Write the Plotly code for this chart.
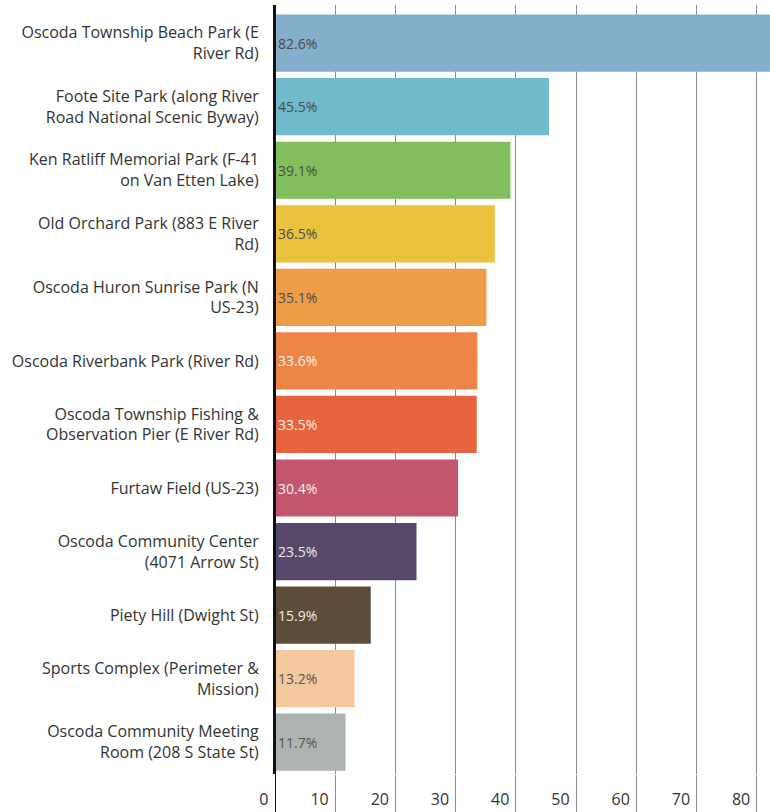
import plotly.graph_objects as go

# Park / facility names (top to bottom) and share of respondents (%)
parks = [
    "Oscoda Township Beach Park (E<br>River Rd)",
    "Foote Site Park (along River<br>Road National Scenic Byway)",
    "Ken Ratliff Memorial Park (F-41<br>on Van Etten Lake)",
    "Old Orchard Park (883 E River<br>Rd)",
    "Oscoda Huron Sunrise Park (N<br>US-23)",
    "Oscoda Riverbank Park (River Rd)",
    "Oscoda Township Fishing &<br>Observation Pier (E River Rd)",
    "Furtaw Field (US-23)",
    "Oscoda Community Center<br>(4071 Arrow St)",
    "Piety Hill (Dwight St)",
    "Sports Complex (Perimeter &<br>Mission)",
    "Oscoda Community Meeting<br>Room (208 S State St)",
]
percent = [82.6, 45.5, 39.1, 36.5, 35.1, 33.6, 33.5, 30.4, 23.5, 15.9, 13.2, 11.7]

bar_colors = [
    "#84AECB", "#6FBACB", "#82BF5C", "#EBC23E", "#EE9C48", "#EE8445",
    "#E8643F", "#C4566F", "#56486B", "#5C4C39", "#F5C89E", "#AFB3B0",
]
label_colors = [
    "#4a4a4a", "#4a4a4a", "#4a4a4a", "#4a4a4a", "#4a4a4a", "#f7f2ea",
    "#f7f2ea", "#f7f2ea", "#f1ece6", "#f1ece6", "#555555", "#555555",
]
x_ticks = [0, 10, 20, 30, 40, 50, 60, 70, 80]

label_font = "Open Sans, sans-serif"

fig = go.Figure(
    go.Bar(
        x=percent,
        y=parks,
        orientation="h",
        width=0.9,
        marker=dict(color=bar_colors, line=dict(width=0)),
        text=[f"{v:.1f}%" for v in percent],
        textposition="inside",
        insidetextanchor="start",
        textfont=dict(family=label_font, size=14, color=label_colors),
        cliponaxis=True,
        hoverinfo="skip",
    )
)

fig.update_layout(
    width=770,
    height=812,
    margin=dict(l=275, r=0, t=5, b=38),
    paper_bgcolor="white",
    plot_bgcolor="white",
    showlegend=False,
    font=dict(family=label_font, size=16, color="#333333"),
    bargap=0.1,
)

fig.update_yaxes(
    type="category",
    categoryorder="array",
    categoryarray=parks,
    range=[11.5, -0.6],
    showgrid=False,
    showline=True,
    linecolor="#111111",
    linewidth=2,
    ticks="",
    ticklabelstandoff=11,
    tickfont=dict(family=label_font, size=16, color="#333333"),
)

fig.update_xaxes(
    range=[0, 82.2],
    tickvals=x_ticks,
    ticktext=[str(t) for t in x_ticks],
    showgrid=True,
    gridcolor="#8c8c8c",
    gridwidth=1,
    zeroline=False,
    showline=False,
    ticks="outside",
    ticklen=38,
    tickcolor="#8c8c8c",
    tickwidth=1,
    ticklabelposition="outside left",
    ticklabelshift=-6,
    ticklabelstandoff=11,
    tickfont=dict(family=label_font, size=16, color="#333333"),
)

# Extend the black baseline below the plot area through the tick labels
fig.add_shape(
    type="line", xref="x", yref="paper",
    x0=0, x1=0, y0=-0.06, y1=1.0,
    line=dict(color="#111111", width=2),
    layer="above",
)

fig.write_html("out.html")
